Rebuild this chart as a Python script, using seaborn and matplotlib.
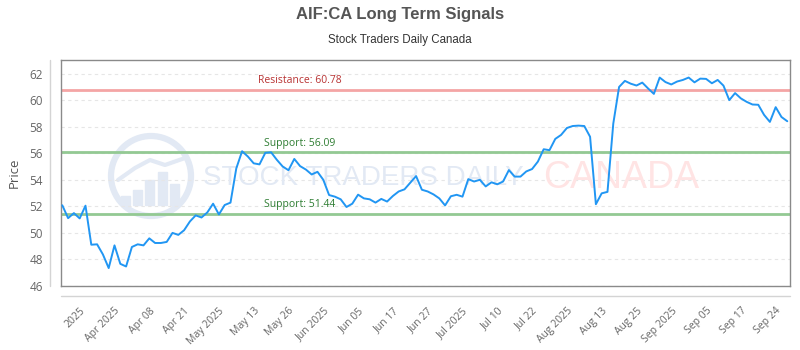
import numpy as np
import pandas as pd
import matplotlib
matplotlib.use("Agg")
import matplotlib.pyplot as plt
import seaborn as sns
from matplotlib.patches import Ellipse, Rectangle
from matplotlib.lines import Line2D

# ---------------- data ----------------
prices = [
    52.08, 51.11, 51.49, 51.09, 52.05, 49.11, 49.14, 48.38, 47.35, 49.06,
    47.67, 47.47, 48.94, 49.14, 49.06, 49.59, 49.24, 49.24, 49.32, 50.00,
    49.85, 50.20, 50.86, 51.32, 51.16, 51.54, 52.20, 51.39, 52.10, 52.28,
    54.86, 56.15, 55.75, 55.24, 55.16, 56.03, 56.07, 55.50, 55.00, 54.72,
    55.57, 55.03, 54.77, 54.40, 54.60, 54.00, 52.85, 52.73, 52.53, 51.95,
    52.20, 52.88, 52.60, 52.53, 52.28, 52.56, 52.36, 52.78, 53.12, 53.28,
    53.78, 54.28, 53.25, 53.12, 52.90, 52.60, 52.07, 52.76, 52.87, 52.73,
    54.05, 53.87, 54.00, 53.50, 53.81, 53.66, 53.87, 54.73, 54.24, 54.24,
    54.63, 54.81, 55.37, 56.30, 56.23, 57.08, 57.38, 57.90, 58.05, 58.08,
    58.05, 57.24, 52.16, 52.98, 53.09, 58.23, 60.99, 61.45, 61.24, 61.10,
    61.32, 60.88, 60.47, 61.70, 61.36, 61.18, 61.40, 61.52, 61.70, 61.34,
    61.62, 61.60, 61.27, 61.52, 61.09, 60.00, 60.53, 60.13, 59.87, 59.67,
    59.65, 58.89, 58.36, 59.47, 58.73, 58.41,
]
tick_labels = ["2025", "Apr 2025", "Apr 08", "Apr 21", "May 2025", "May 13",
               "May 26", "Jun 2025", "Jun 05", "Jun 17", "Jun 27", "Jul 2025",
               "Jul 10", "Jul 22", "Aug 2025", "Aug 13", "Aug 25", "Sep 2025",
               "Sep 05", "Sep 17", "Sep 24"]
resistance = 60.78
supports = [56.09, 51.44]
y_ticks = [46, 48, 50, 52, 54, 56, 58, 60, 62]

title = "AIF:CA Long Term Signals"
subtitle = "Stock Traders Daily Canada"

# ---------------- style ----------------
sns.set_theme(style="white")
plt.rcParams["font.family"] = ["Open Sans", "DejaVu Sans"]
narrow = ["Liberation Sans Narrow", "Liberation Sans", "DejaVu Sans"]

W, H = 800, 350
fig = plt.figure(figsize=(8, 3.5), dpi=100)
fig.patch.set_facecolor("white")

def fx(px):
    return px / W

def fy(py):
    return 1 - py / H

ax = fig.add_axes([fx(60.5), fy(286), fx(790) - fx(60.5), fy(59.5) - fy(286)])

df = pd.DataFrame({"idx": np.arange(len(prices)), "price": prices})

# watermark (behind everything)
wm_blue = (0.885, 0.915, 0.955)
ax.add_patch(Ellipse((fx(151), fy(176)), 80 / W, 80 / H, transform=fig.transFigure,
                     fill=False, edgecolor=wm_blue, lw=4.5, zorder=0.5, clip_on=False))
for bx, btop in [(121, 196), (133, 190), (145, 180), (158, 172), (170, 184)]:
    ax.add_patch(Rectangle((fx(bx), fy(205)), 9 / W, (205 - btop) / H,
                           transform=fig.transFigure, color=wm_blue, zorder=0.5,
                           clip_on=False))
ax.add_line(Line2D([fx(118), fx(135), fx(150), fx(165), fx(185)],
                   [fy(180), fy(168), fy(160), fy(165), fy(158)],
                   transform=fig.transFigure, color=wm_blue, lw=3, zorder=0.5))
ax.text(fx(203), fy(178), "STOCK TRADERS DAILY", transform=fig.transFigure,
        ha="left", va="center", fontsize=20, color=wm_blue, family=narrow,
        zorder=0.6)
ax.text(fx(543), fy(178), "CANADA", transform=fig.transFigure,
        ha="left", va="center", fontsize=27, color=(1.0, 0.895, 0.895),
        family=["Liberation Sans", "DejaVu Sans"], zorder=0.6)

# level lines
ax.axhline(resistance, color="#f4a5a5", lw=2, zorder=2)
for s in supports:
    ax.axhline(s, color="#93c993", lw=2, zorder=2)

ax.annotate(f"Resistance: {resistance:.2f}", xy=(0.3283, resistance),
            xycoords=("axes fraction", "data"), xytext=(0, 2.5),
            textcoords="offset points", ha="center", va="bottom",
            fontsize=7.5, color="#b83232", zorder=4)
for s in supports:
    ax.annotate(f"Support: {s:.2f}", xy=(0.3283, s),
                xycoords=("axes fraction", "data"), xytext=(0, 2.5),
                textcoords="offset points", ha="center", va="bottom",
                fontsize=7.5, color="#2e7d32", zorder=4)

sns.lineplot(data=df, x="idx", y="price", ax=ax, color="#2196f3", lw=1.4,
             zorder=5)

ax.set_xlim(-0.31, len(prices) - 1 + 0.47)
ax.set_ylim(46, 63.06)
ax.set_yticks(y_ticks)
ax.set_yticklabels([str(v) for v in y_ticks])
tick_pos = [3 + 6 * k for k in range(len(tick_labels))]
ax.set_xticks(tick_pos)
ax.set_xticklabels(tick_labels, rotation=45, ha="right", rotation_mode="anchor")

ax.yaxis.grid(True, color="#e6e6e6", lw=0.8, ls=(0, (3, 3)))
ax.xaxis.grid(False)
ax.tick_params(axis="y", length=0, pad=12.5, labelsize=8.5, labelcolor="#666666")
ax.tick_params(axis="x", length=0, pad=14, labelsize=7.5, labelcolor="#666666")
for sp in ax.spines.values():
    sp.set_visible(True)
    sp.set_color("#8a8a8a")
    sp.set_linewidth(1)

ax.set_xlabel("")
ax.set_ylabel("Price", fontsize=9.5, color="#555555")
ax.yaxis.set_label_coords((21 - 60.5) / (790 - 60.5), 0.5)

# outer axis lines (chart.js style)
fig.add_artist(Line2D([fx(50), fx(50)], [fy(59.5), fy(286)], color="#d4d4d4", lw=1))
fig.add_artist(Line2D([fx(60.5), fx(790)], [fy(296), fy(296)], color="#d4d4d4", lw=1))

fig.text(0.5, fy(15), title, ha="center", va="center", fontsize=12,
         fontweight="bold", color="#555555", family=narrow)
fig.text(0.5, fy(40), subtitle, ha="center", va="center", fontsize=8.3,
         color="#333333", family=narrow)

fig.savefig("out.png", dpi=100, facecolor="white")
